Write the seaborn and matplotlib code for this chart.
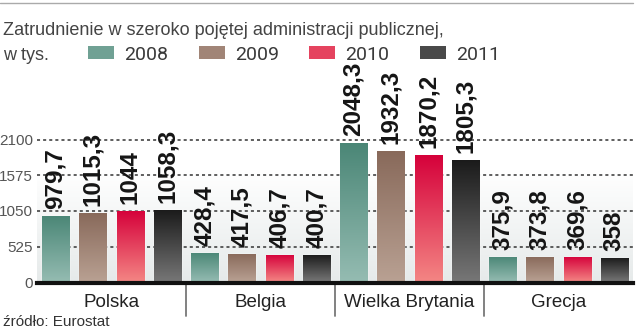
import numpy as np
import pandas as pd
import matplotlib
matplotlib.use('Agg')
import matplotlib.pyplot as plt
import seaborn as sns
from matplotlib import font_manager as fm
from matplotlib.colors import LinearSegmentedColormap, to_rgb
from matplotlib.patches import Patch
from matplotlib.lines import Line2D
import matplotlib.transforms as mtrans

# ---- data ----
countries = ['Polska', 'Belgia', 'Wielka Brytania', 'Grecja']
years = ['2008', '2009', '2010', '2011']
v2008 = [979.7, 428.4, 2048.3, 375.9]
v2009 = [1015.3, 417.5, 1932.3, 373.8]
v2010 = [1044, 406.7, 1870.2, 369.6]
v2011 = [1058.3, 400.7, 1805.3, 358]
yticks = [0, 525, 1050, 1575, 2100]
title = 'Zatrudnienie w szeroko pojętej administracji publicznej,'
subtitle = 'w tys.'
source = 'źródło: Eurostat'

df = pd.DataFrame({
    'kraj': countries * 4,
    'rok': [y for y in years for _ in countries],
    'val': v2008 + v2009 + v2010 + v2011,
})

sns.set_theme(style='white')
names = {f.name for f in fm.fontManager.ttflist}
NARROW = 'Liberation Sans Narrow' if 'Liberation Sans Narrow' in names else 'Liberation Sans'
REG = 'Liberation Sans'
LEG = 'Roboto' if 'Roboto' in names else REG
plt.rcParams['font.family'] = [NARROW, 'DejaVu Sans']

top_cols = ['#4a8676', '#88695a', '#d5003a', '#1a1a1a']
bot_cols = ['#95bcb2', '#b9a193', '#f48684', '#777777']
mid_cols = [tuple((np.array(to_rgb(a)) + np.array(to_rgb(b))) / 2) for a, b in zip(top_cols, bot_cols)]

W, H = 639, 331
fig = plt.figure(figsize=(W / 100, H / 100), dpi=100)
ymax = 2115
px_per = 143 / 2100
ax = fig.add_axes([37 / W, (H - 282.5) / H, 596 / W, ymax * px_per / H])

# background gradient
bg = LinearSegmentedColormap.from_list('bg', ['#e6eaea', '#ffffff'])
ax.imshow(np.linspace(0, 1, 256).reshape(-1, 1), cmap=bg,
          extent=[-0.5, len(countries) - 0.5, 0, 1640], origin='lower',
          aspect='auto', zorder=0)

sns.barplot(data=df, x='kraj', y='val', hue='rok', order=countries,
            hue_order=years, palette=mid_cols, width=1.0, gap=0.27,
            errorbar=None, saturation=1, legend=False, ax=ax, zorder=2)

grad = np.linspace(0, 1, 256).reshape(-1, 1)
for i, cont in enumerate(ax.containers):
    cmap = LinearSegmentedColormap.from_list(f'g{i}', [bot_cols[i], top_cols[i]])
    for bar in cont:
        x0, y0, w, h = bar.get_x(), bar.get_y(), bar.get_width(), bar.get_height()
        im = ax.imshow(grad, cmap=cmap, extent=[x0, x0 + w, y0, y0 + h],
                       origin='lower', aspect='auto', zorder=2.2)
        im.set_clip_path(bar)
    labels = [f'{v:g}'.replace('.', ',') for v in cont.datavalues]
    ax.bar_label(cont, labels=labels, rotation=90, padding=5, fontsize=17.5,
                 fontweight='bold', family=NARROW, color='#151515')

ax.set_xlim(-0.5, len(countries) - 0.5)
ax.set_ylim(0, ymax)
ax.set_yticks(yticks)
ax.set_yticklabels([str(t) for t in yticks])
ax.yaxis.grid(True, linestyle=(0, (2, 2)), color='#333333', lw=1.1)
ax.xaxis.grid(False)
ax.set_axisbelow(True)
ax.set_xlabel('')
ax.set_ylabel('')
for s in ['left', 'top', 'right']:
    ax.spines[s].set_visible(False)
ax.spines['bottom'].set_linewidth(3)
ax.spines['bottom'].set_color('#111111')
ax.spines['bottom'].set_zorder(3)
ax.tick_params(axis='y', length=0, pad=3, labelsize=11, labelcolor='#555555')
ax.tick_params(axis='x', length=0, pad=8, labelsize=13.5, labelcolor='#222222')
for t in ax.get_xticklabels():
    t.set_family(REG)

trans = mtrans.blended_transform_factory(ax.transData, ax.transAxes)
for b in np.arange(len(countries) - 1) + 0.5:
    ax.plot([b, b], [0, -0.23], transform=trans, color='#777777', lw=1.3,
            clip_on=False, zorder=1)

fig.add_artist(Line2D([0, 633 / W], [1 - 2.5 / H] * 2, color='#aaaaaa', lw=1))
fig.text(3 / W, 1 - 35 / H, title, fontsize=13, color='#444444', va='baseline')
fig.text(3 / W, 1 - 60 / H, subtitle, fontsize=13, color='#444444', va='baseline')
fig.text(3 / W, 1 - 326 / H, source, fontsize=11, color='#333333', va='baseline')

handles = [Patch(facecolor=c, edgecolor='none') for c in mid_cols]
fig.legend(handles, years, loc='center left', bbox_to_anchor=(88 / W, 1 - 54.5 / H),
           ncol=4, frameon=False, borderpad=0, borderaxespad=0,
           handlelength=1.34, handleheight=0.67, handletextpad=0.52,
           columnspacing=1.56, prop={'family': LEG, 'weight': 'normal', 'size': 14},
           labelcolor='#3a3a3a')

fig.savefig('out.png', dpi=100)
